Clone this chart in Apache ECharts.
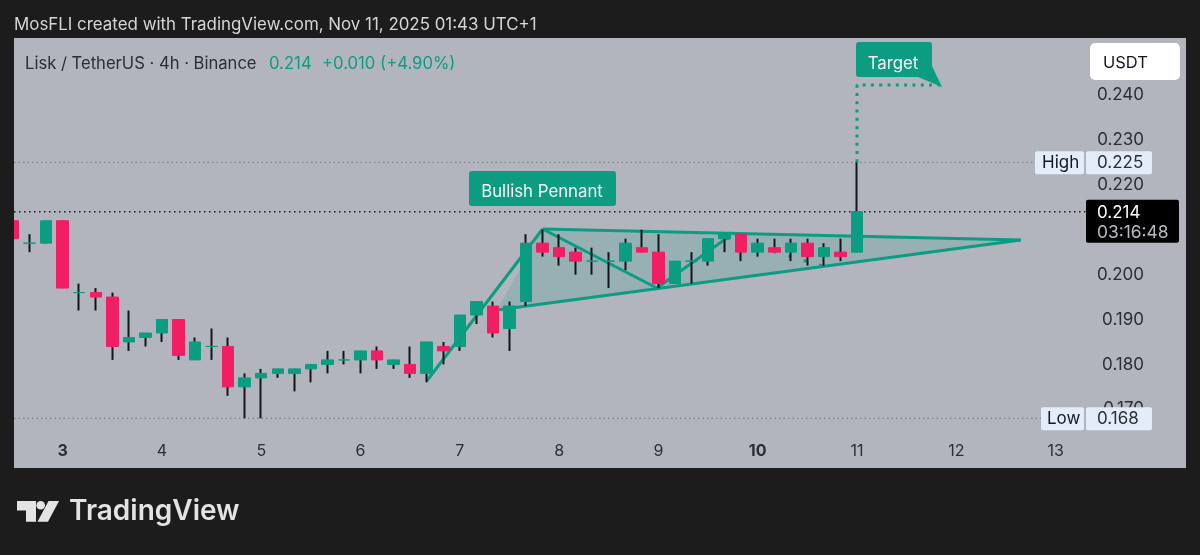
<!DOCTYPE html>
<html>
<head>
<meta charset="utf-8">
<title>Lisk / TetherUS</title>
<script src="https://cdn.jsdelivr.net/npm/echarts@6/dist/echarts.min.js"></script>
<style>
  html, body { margin: 0; padding: 0; background: #1c1c1c; }
  #main { width: 1200px; height: 555px; }
</style>
</head>
<body>
<div id="main"></div>
<script>
/* candles, 4h, one per index, prices in USDT */
var opens  = [0.212,0.207,0.207,0.212,0.196,0.196,0.195,0.185,0.186,0.187,0.190,0.181,0.184,0.184,0.175,0.177,0.178,0.178,0.179,0.180,0.181,0.181,0.183,0.180,0.180,0.178,0.184,0.184,0.191,0.193,0.188,0.194,0.207,0.206,0.205,0.203,0.203,0.203,0.206,0.205,0.198,0.203,0.203,0.208,0.209,0.205,0.206,0.205,0.207,0.204,0.205,0.205];
var closes = [0.208,0.207,0.212,0.197,0.196,0.195,0.184,0.186,0.187,0.190,0.182,0.185,0.184,0.175,0.177,0.178,0.179,0.179,0.180,0.181,0.181,0.183,0.181,0.181,0.178,0.185,0.183,0.191,0.194,0.187,0.193,0.207,0.205,0.204,0.203,0.203,0.203,0.207,0.205,0.198,0.203,0.203,0.208,0.209,0.205,0.207,0.205,0.207,0.204,0.206,0.204,0.214];
var lows   = [0.208,0.205,0.207,0.197,0.192,0.192,0.181,0.183,0.184,0.185,0.181,0.181,0.181,0.173,0.168,0.168,0.177,0.174,0.176,0.178,0.180,0.178,0.179,0.179,0.177,0.176,0.180,0.183,0.189,0.186,0.183,0.193,0.204,0.202,0.200,0.200,0.197,0.201,0.205,0.197,0.198,0.198,0.202,0.205,0.203,0.204,0.205,0.203,0.202,0.202,0.203,0.205];
var highs  = [0.212,0.209,0.212,0.212,0.198,0.197,0.196,0.192,0.187,0.190,0.190,0.186,0.188,0.186,0.178,0.179,0.179,0.179,0.180,0.183,0.183,0.183,0.184,0.181,0.184,0.185,0.185,0.191,0.194,0.194,0.194,0.209,0.210,0.209,0.206,0.206,0.205,0.208,0.210,0.209,0.203,0.205,0.208,0.209,0.209,0.208,0.208,0.208,0.208,0.207,0.208,0.225];

var priceTicks = [0.180, 0.190, 0.200, 0.220, 0.230, 0.240, 0.170];
var dayTicks = [3, 9, 15, 21, 27, 33, 39, 45, 51, 57, 63];
var dayLabels = ['3', '4', '5', '6', '7', '8', '9', '10', '11', '12', '13'];
var boldDays = ['3', '10'];

/* drawings on the chart as [index, price] */
var poleLine = [[25, 0.1763], [32, 0.21016]];
var topLine = [[32, 0.21016], [60.9, 0.20771]];
var bottomLine = [[29.25, 0.19212], [60.9, 0.20771]];
var swingLine = [[32, 0.21016], [38.9, 0.19702], [43.14, 0.20815]];
var swingDotted = [[43.14, 0.20815], [48.94, 0.20192]];
var targetPath = [[51, 0.225], [51, 0.24223], [56.07, 0.24223]];
var pennantArea = [[29.25, 0.19212], [32, 0.21016], [60.9, 0.20771]];

var lastPrice = 0.214, highPrice = 0.225, lowPrice = 0.168;

var bgColor = '#1c1c1c', paneColor = '#b2b5be';
var upColor = '#0c9c82', downColor = '#f21e63', wickColor = '#14151a', textColor = '#2a2e39';
var fontName = 'Inter';

var candleData = opens.map(function (o, i) { return [i, o, closes[i], lows[i], highs[i]]; });
var bodyData = opens.map(function (o, i) {
  return [i, o, closes[i], Math.min(o, closes[i]), Math.max(o, closes[i])];
});

function drawLine(name, data, width, color, type) {
  return {
    name: name, type: 'line', data: data, z: 1, silent: true,
    symbol: 'none', showSymbol: false,
    lineStyle: { width: width, color: color, type: type || 'solid', cap: 'butt' }
  };
}

var chart = echarts.init(document.getElementById('main'));

chart.setOption({
  animation: false,
  backgroundColor: bgColor,
  grid: { left: 14, right: 14, top: 38, bottom: 87, backgroundColor: paneColor, show: true, borderWidth: 0 },
  xAxis: {
    type: 'value', min: 0.06, max: 70.88,
    axisLine: { show: false }, axisTick: { show: false }, splitLine: { show: false },
    axisLabel: {
      inside: true, margin: 9, customValues: dayTicks,
      formatter: function (v) {
        var s = dayLabels[dayTicks.indexOf(v)];
        return boldDays.indexOf(s) >= 0 ? '{b|' + s + '}' : s;
      },
      color: textColor, fontFamily: fontName, fontSize: 16,
      rich: { b: { fontWeight: 'bold', fontFamily: fontName, fontSize: 16, color: textColor } }
    }
  },
  yAxis: {
    type: 'value', position: 'right', min: 0.15693, max: 0.25269, scale: true,
    axisLine: { show: false }, axisTick: { show: false }, splitLine: { show: false },
    axisLabel: {
      inside: true, margin: 42, customValues: priceTicks,
      formatter: function (v) { return v.toFixed(3); },
      color: textColor, fontFamily: fontName, fontSize: 17, padding: [4, 0, 0, 0]
    }
  },
  series: [
    drawLine('High', [[0.06, highPrice], [61.9, highPrice]], 1, '#74767e', [1.5, 3]),
    drawLine('Last', [[0.06, lastPrice], [65, lastPrice]], 1.5, '#17181c', [1.5, 3.5]),
    drawLine('Low', [[0.06, lowPrice], [62.3, lowPrice]], 1, '#74767e', [1.5, 3]),
    {
      name: 'Pennant area', type: 'custom', z: 1, silent: true, data: [0],
      renderItem: function (params, api) {
        return {
          type: 'polygon',
          shape: { points: pennantArea.map(function (p) { return api.coord(p); }) },
          style: { fill: 'rgba(12,156,130,0.17)' }
        };
      }
    },
    drawLine('Pole', poleLine, 3, upColor),
    drawLine('Pennant top', topLine, 3, upColor),
    drawLine('Pennant bottom', bottomLine, 3, upColor),
    drawLine('Swing', swingLine, 3, upColor),
    drawLine('Swing dotted', swingDotted, 3, upColor, [3, 13]),
    drawLine('Target path', targetPath, 3, upColor, [3, 5.3]),
    {
      name: 'Wicks', type: 'candlestick', data: candleData, z: 3, barWidth: 1, silent: true,
      itemStyle: { color: wickColor, color0: wickColor, borderColor: wickColor, borderColor0: wickColor, borderColorDoji: wickColor, borderWidth: 2 }
    },
    {
      name: 'Lisk / TetherUS', type: 'candlestick', data: bodyData, z: 4, barWidth: 12, silent: true,
      itemStyle: { color: upColor, color0: downColor, borderColor: upColor, borderColor0: downColor, borderColorDoji: upColor, borderWidth: 1 }
    }
  ]
});

/* price tags sit where the axis says the price is */
var highY = chart.convertToPixel({ yAxisIndex: 0 }, highPrice);
var lowY = chart.convertToPixel({ yAxisIndex: 0 }, lowPrice);
var lastY = chart.convertToPixel({ yAxisIndex: 0 }, lastPrice);

function box(x, y, w, h, fill, r) {
  return { type: 'rect', z: 50, shape: { x: x, y: y, width: w, height: h, r: r || 0 }, style: { fill: fill } };
}
function label(s, x, y, color, size, extra) {
  var st = { text: s, x: x, y: y, fill: color, font: (extra || 'normal') + ' ' + size + 'px ' + fontName, textVerticalAlign: 'middle' };
  return { type: 'text', z: 60, style: st };
}
function centered(el) { el.style.textAlign = 'center'; return el; }

chart.setOption({
  graphic: [
    /* first candle is cut by the pane edge */
    box(0, 38, 14, 431, bgColor),

    label('MosFLI created with TradingView.com, Nov 11, 2025 01:43 UTC+1', 14, 25, '#d6d6d6', 16.9),
    label('Lisk / TetherUS \u00b7 4h \u00b7 Binance', 25, 64, textColor, 16.6),
    label('0.214', 269, 64, upColor, 16.7),
    label('+0.010 (+4.90%)', 322, 64, upColor, 16.7),

    box(469, 171, 147, 35, upColor, 3),
    centered(label('Bullish Pennant', 542, 192, '#f4f7f6', 16.8)),

    box(856, 42, 76, 35, upColor, 3),
    { type: 'polygon', z: 50, shape: { points: [[932, 66], [942, 87], [918, 77]] }, style: { fill: upColor } },
    centered(label('Target', 893, 64, '#f4f7f6', 16.8)),

    box(1090, 43, 90, 37, '#ffffff', 5),
    label('USDT', 1103, 63, '#131722', 16.5),

    box(1035, highY - 11, 49, 23, '#e3edfa', 2),
    box(1086, highY - 11, 66, 23, '#e3edfa', 2),
    label('High', 1042, highY + 1, '#131722', 17),
    label('0.225', 1097, highY + 1, textColor, 17),

    box(1041, lowY - 11, 43, 23, '#e3edfa', 2),
    box(1086, lowY - 11, 66, 23, '#e3edfa', 2),
    label('Low', 1047, lowY + 1, '#131722', 17),
    label('0.168', 1097, lowY + 1, textColor, 17),

    box(1086, lastY - 12, 93, 43, '#000000', 2),
    label('0.214', 1097, lastY + 1, '#ffffff', 17),
    label('03:16:48', 1097, lastY + 21, '#b9bbc1', 17.4),

    /* TradingView mark */
    { type: 'polygon', z: 50, shape: { points: [[17, 501], [36, 501], [36, 521.7], [26, 521.7], [26, 510.5], [17, 510.5]] }, style: { fill: '#e3e3e3' } },
    { type: 'circle', z: 50, shape: { cx: 40.7, cy: 505.3, r: 4.3 }, style: { fill: '#e3e3e3' } },
    { type: 'polygon', z: 50, shape: { points: [[48.5, 501], [59, 501], [48, 521.7], [37.5, 521.7]] }, style: { fill: '#e3e3e3' } },
    label('TradingView', 69, 512, '#e3e3e3', 28, '600')
  ]
});
</script>
</body>
</html>
